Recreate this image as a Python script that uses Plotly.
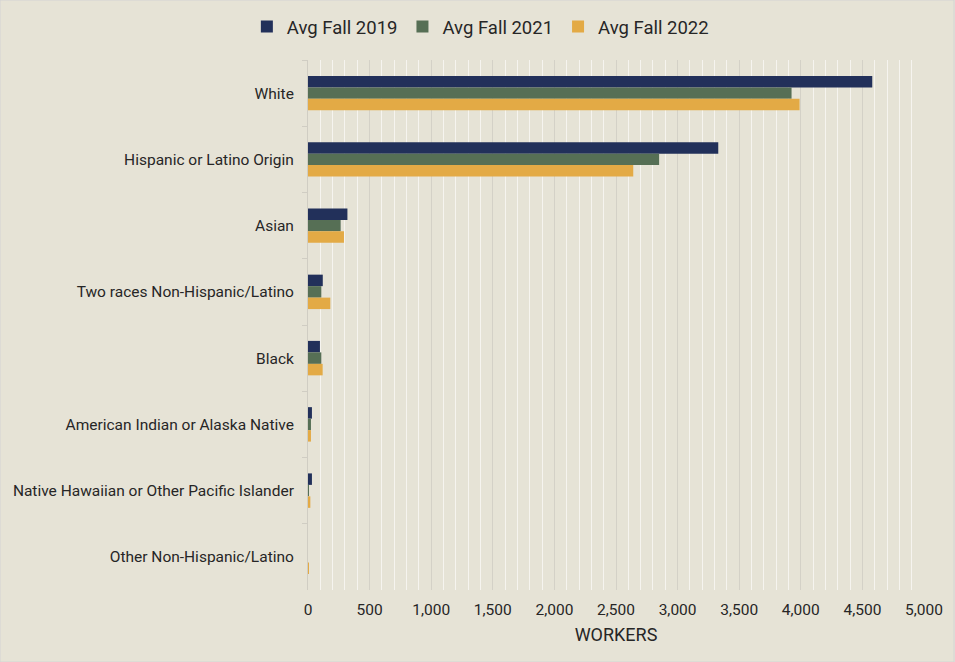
import plotly.graph_objects as go

categories = [
    "White",
    "Hispanic or Latino Origin",
    "Asian",
    "Two races Non-Hispanic/Latino",
    "Black",
    "American Indian or Alaska Native",
    "Native Hawaiian or Other Pacific Islander",
    "Other Non-Hispanic/Latino",
]
fall_2019 = [4580, 3330, 320, 120, 97, 32, 32, 0]
fall_2021 = [3925, 2850, 265, 108, 108, 24, 8, 0]
fall_2022 = [3990, 2640, 292, 181, 119, 24, 19, 8]

series = [
    ("Avg Fall 2019", fall_2019, "#22305A"),
    ("Avg Fall 2021", fall_2021, "#566F55"),
    ("Avg Fall 2022", fall_2022, "#E3AA45"),
]

BG = "#E6E3D6"
TEXT = "#262626"

fig = go.Figure()
for name, vals, color in series:
    fig.add_trace(go.Bar(
        y=categories, x=vals, name=name, orientation="h",
        marker=dict(color=color, line=dict(width=0)),
    ))

fig.update_layout(
    width=955, height=662,
    paper_bgcolor=BG, plot_bgcolor=BG,
    font=dict(family="Roboto", size=15.5, color=TEXT),
    barmode="group", bargap=0.48, bargroupgap=0,
    margin=dict(l=308, r=31, t=60, b=72),
    showlegend=True,
    legend=dict(
        orientation="h", xref="container", yref="container",
        x=0.503, xanchor="center", y=0.988, yanchor="top",
        font=dict(size=18.5, color=TEXT), bgcolor="rgba(0,0,0,0)",
        itemwidth=30, traceorder="normal",
    ),
    xaxis=dict(
        range=[0, 5000], dtick=500, tickformat=",d",
        showgrid=True, gridcolor="#D4D1C7", gridwidth=1,
        minor=dict(dtick=100, showgrid=True, gridcolor="#F6F4EF", gridwidth=1),
        zeroline=False, showline=False, ticks="",
        ticklabelstandoff=8,
        tickfont=dict(size=15.5, color=TEXT),
        title=dict(text="WORKERS", font=dict(size=18, color=TEXT), standoff=10),
        fixedrange=True,
    ),
    yaxis=dict(
        categoryorder="array", categoryarray=categories,
        range=[7.5, -0.5],
        showgrid=False, zeroline=False,
        showline=True, linecolor="#D0CDC3", linewidth=1,
        ticks="outside", tickson="boundaries", ticklen=5, tickcolor="#D0CDC3",
        ticklabelstandoff=10,
        tickfont=dict(size=15.5, color=TEXT),
        fixedrange=True,
    ),
    shapes=[dict(
        type="rect", xref="paper", yref="paper",
        x0=-308 / 616, x1=1 + 30 / 616, y0=-72 / 530, y1=1 + 60 / 530,
        line=dict(color="#D4D4D4", width=1), layer="below",
    )],
)

fig.write_html("out.html")
